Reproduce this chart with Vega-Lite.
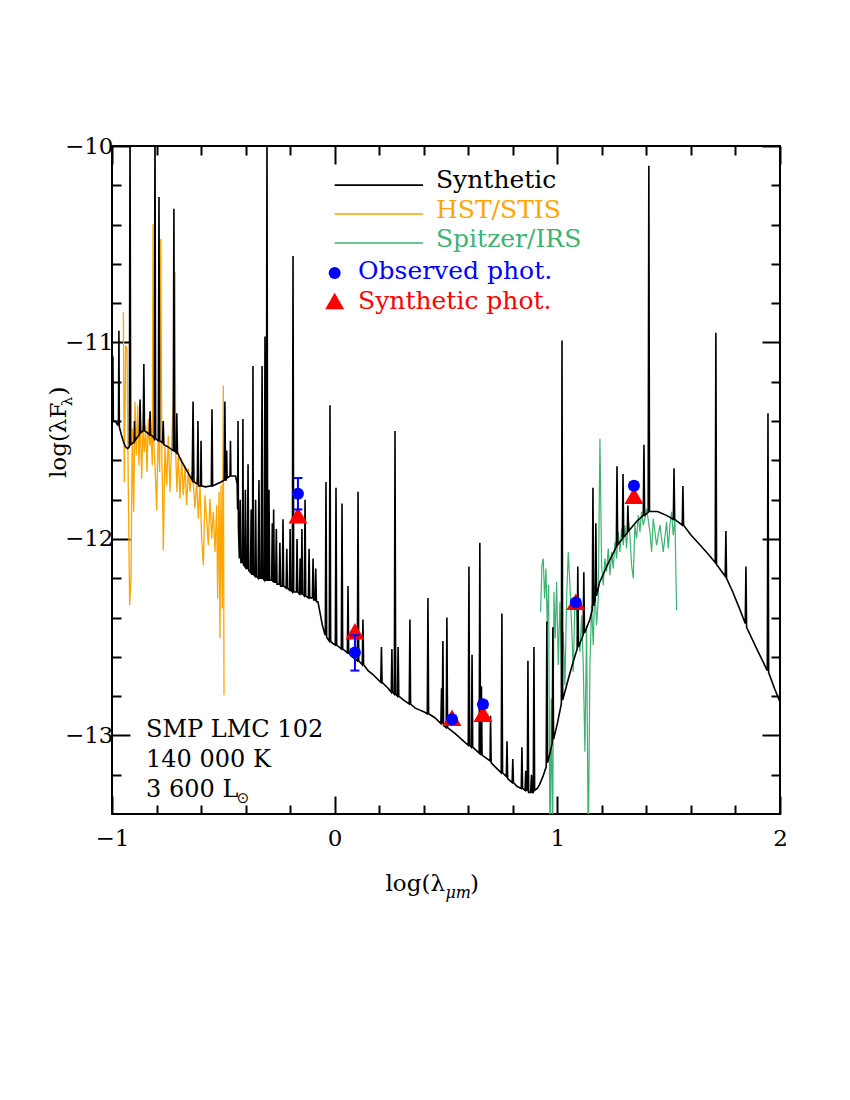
{
  "$schema": "https://vega.github.io/schema/vega-lite/v6.json",
  "width": 668,
  "height": 668,
  "autosize": {"type": "none"},
  "padding": {"left": 112, "top": 146, "right": 70, "bottom": 286},
  "background": "white",
  "config": {"view": {"stroke": "black", "strokeWidth": 2}, "font": "DejaVu Serif"},
  "resolve": {"axis": {"x": "independent", "y": "independent"}},
  "datasets": {
    "syn": [
      {"x":-1.000,"y":-11.39},{"x":-0.998,"y":-11.39},{"x":-0.996,"y":-11.07},{"x":-0.994,"y":-11.40},{"x":-0.985,"y":-11.40},{"x":-0.975,"y":-11.42},{"x":-0.971,"y":-11.42},{"x":-0.969,"y":-10.94},{"x":-0.967,"y":-11.43},{"x":-0.958,"y":-11.47},{"x":-0.950,"y":-11.50},{"x":-0.940,"y":-11.53},{"x":-0.930,"y":-11.54},{"x":-0.922,"y":-11.53},{"x":-0.919,"y":-9.9},{"x":-0.916,"y":-11.52},{"x":-0.905,"y":-11.51},{"x":-0.901,"y":-11.51},{"x":-0.899,"y":-11.40},{"x":-0.897,"y":-11.50},{"x":-0.885,"y":-11.48},{"x":-0.877,"y":-11.47},{"x":-0.874,"y":-11.29},{"x":-0.871,"y":-11.46},{"x":-0.860,"y":-11.45},{"x":-0.857,"y":-11.11},{"x":-0.854,"y":-11.45},{"x":-0.840,"y":-11.46},{"x":-0.832,"y":-11.47},{"x":-0.829,"y":-11.35},{"x":-0.826,"y":-11.47},{"x":-0.815,"y":-11.48},{"x":-0.810,"y":-11.49},{"x":-0.807,"y":-9.9},{"x":-0.804,"y":-11.49},{"x":-0.792,"y":-11.50},{"x":-0.789,"y":-10.26},{"x":-0.786,"y":-11.50},{"x":-0.773,"y":-11.51},{"x":-0.770,"y":-11.40},{"x":-0.767,"y":-11.52},{"x":-0.750,"y":-11.53},{"x":-0.725,"y":-11.55},{"x":-0.722,"y":-10.32},{"x":-0.719,"y":-11.55},{"x":-0.712,"y":-11.56},{"x":-0.709,"y":-11.36},{"x":-0.706,"y":-11.56},{"x":-0.690,"y":-11.60},{"x":-0.675,"y":-11.63},{"x":-0.660,"y":-11.66},{"x":-0.650,"y":-11.68},{"x":-0.640,"y":-11.70},{"x":-0.636,"y":-11.30},{"x":-0.632,"y":-11.71},{"x":-0.617,"y":-11.72},{"x":-0.614,"y":-11.40},{"x":-0.611,"y":-11.73},{"x":-0.602,"y":-11.73},{"x":-0.600,"y":-11.50},{"x":-0.598,"y":-11.73},{"x":-0.580,"y":-11.735},{"x":-0.554,"y":-11.73},{"x":-0.551,"y":-11.34},{"x":-0.548,"y":-11.73},{"x":-0.530,"y":-11.72},{"x":-0.510,"y":-11.71},{"x":-0.496,"y":-11.70},{"x":-0.493,"y":-11.30},{"x":-0.490,"y":-11.70},{"x":-0.487,"y":-11.70},{"x":-0.485,"y":-11.55},{"x":-0.483,"y":-11.69},{"x":-0.470,"y":-11.68},{"x":-0.468,"y":-11.50},{"x":-0.466,"y":-11.68},{"x":-0.455,"y":-11.68},{"x":-0.445,"y":-11.68},{"x":-0.438,"y":-11.72},{"x":-0.436,"y":-11.85},{"x":-0.434,"y":-11.40},{"x":-0.432,"y":-11.95},{"x":-0.428,"y":-12.10},{"x":-0.424,"y":-11.80},{"x":-0.421,"y":-12.12},{"x":-0.414,"y":-12.12},{"x":-0.412,"y":-11.39},{"x":-0.410,"y":-12.13},{"x":-0.404,"y":-12.14},{"x":-0.401,"y":-11.75},{"x":-0.398,"y":-12.15},{"x":-0.392,"y":-12.15},{"x":-0.389,"y":-11.62},{"x":-0.386,"y":-12.16},{"x":-0.378,"y":-12.17},{"x":-0.375,"y":-11.85},{"x":-0.372,"y":-12.18},{"x":-0.369,"y":-12.18},{"x":-0.367,"y":-11.12},{"x":-0.365,"y":-12.18},{"x":-0.358,"y":-12.19},{"x":-0.355,"y":-11.80},{"x":-0.352,"y":-12.19},{"x":-0.344,"y":-12.20},{"x":-0.340,"y":-11.70},{"x":-0.337,"y":-12.20},{"x":-0.330,"y":-12.20},{"x":-0.326,"y":-11.12},{"x":-0.323,"y":-12.20},{"x":-0.316,"y":-12.21},{"x":-0.313,"y":-10.97},{"x":-0.310,"y":-12.21},{"x":-0.307,"y":-12.21},{"x":-0.304,"y":-9.9},{"x":-0.301,"y":-12.21},{"x":-0.298,"y":-12.21},{"x":-0.295,"y":-11.75},{"x":-0.292,"y":-12.21},{"x":-0.283,"y":-12.21},{"x":-0.280,"y":-11.92},{"x":-0.277,"y":-12.22},{"x":-0.274,"y":-11.85},{"x":-0.271,"y":-12.22},{"x":-0.265,"y":-12.22},{"x":-0.262,"y":-11.95},{"x":-0.259,"y":-12.23},{"x":-0.249,"y":-12.23},{"x":-0.246,"y":-12.02},{"x":-0.243,"y":-12.24},{"x":-0.235,"y":-12.24},{"x":-0.232,"y":-11.90},{"x":-0.229,"y":-12.24},{"x":-0.218,"y":-12.25},{"x":-0.215,"y":-12.05},{"x":-0.212,"y":-12.25},{"x":-0.203,"y":-12.26},{"x":-0.200,"y":-11.95},{"x":-0.197,"y":-12.26},{"x":-0.190,"y":-12.27},{"x":-0.187,"y":-10.56},{"x":-0.184,"y":-12.27},{"x":-0.172,"y":-12.27},{"x":-0.169,"y":-12.00},{"x":-0.166,"y":-12.27},{"x":-0.158,"y":-12.28},{"x":-0.155,"y":-12.10},{"x":-0.152,"y":-12.28},{"x":-0.150,"y":-12.28},{"x":-0.147,"y":-11.95},{"x":-0.144,"y":-12.28},{"x":-0.136,"y":-12.29},{"x":-0.133,"y":-11.80},{"x":-0.130,"y":-12.29},{"x":-0.118,"y":-12.30},{"x":-0.115,"y":-12.05},{"x":-0.112,"y":-12.30},{"x":-0.100,"y":-12.30},{"x":-0.097,"y":-12.10},{"x":-0.094,"y":-12.31},{"x":-0.088,"y":-12.31},{"x":-0.085,"y":-12.15},{"x":-0.082,"y":-12.32},{"x":-0.075,"y":-12.32},{"x":-0.065,"y":-12.38},{"x":-0.055,"y":-12.44},{"x":-0.045,"y":-12.48},{"x":-0.042,"y":-12.49},{"x":-0.039,"y":-11.71},{"x":-0.036,"y":-12.50},{"x":-0.024,"y":-12.52},{"x":-0.021,"y":-11.32},{"x":-0.018,"y":-12.52},{"x":-0.010,"y":-12.53},{"x":0.003,"y":-12.54},{"x":0.006,"y":-11.74},{"x":0.009,"y":-12.54},{"x":0.020,"y":-12.55},{"x":0.030,"y":-12.56},{"x":0.033,"y":-11.82},{"x":0.036,"y":-12.56},{"x":0.057,"y":-12.58},{"x":0.060,"y":-12.24},{"x":0.063,"y":-12.58},{"x":0.080,"y":-12.60},{"x":0.102,"y":-12.62},{"x":0.105,"y":-11.76},{"x":0.108,"y":-12.62},{"x":0.124,"y":-12.64},{"x":0.127,"y":-12.41},{"x":0.130,"y":-12.64},{"x":0.150,"y":-12.67},{"x":0.172,"y":-12.69},{"x":0.207,"y":-12.73},{"x":0.210,"y":-12.55},{"x":0.213,"y":-12.73},{"x":0.240,"y":-12.76},{"x":0.254,"y":-12.78},{"x":0.257,"y":-12.56},{"x":0.260,"y":-12.78},{"x":0.268,"y":-12.79},{"x":0.271,"y":-11.45},{"x":0.274,"y":-12.79},{"x":0.282,"y":-12.80},{"x":0.285,"y":-12.55},{"x":0.288,"y":-12.80},{"x":0.310,"y":-12.82},{"x":0.335,"y":-12.84},{"x":0.338,"y":-12.41},{"x":0.341,"y":-12.84},{"x":0.360,"y":-12.86},{"x":0.380,"y":-12.87},{"x":0.400,"y":-12.88},{"x":0.416,"y":-12.89},{"x":0.419,"y":-12.30},{"x":0.422,"y":-12.89},{"x":0.450,"y":-12.91},{"x":0.477,"y":-12.94},{"x":0.480,"y":-12.76},{"x":0.483,"y":-12.94},{"x":0.486,"y":-12.52},{"x":0.489,"y":-12.95},{"x":0.501,"y":-12.96},{"x":0.504,"y":-12.40},{"x":0.507,"y":-12.96},{"x":0.540,"y":-12.99},{"x":0.570,"y":-13.02},{"x":0.600,"y":-13.05},{"x":0.603,"y":-12.14},{"x":0.606,"y":-13.05},{"x":0.614,"y":-13.06},{"x":0.617,"y":-12.59},{"x":0.620,"y":-13.06},{"x":0.649,"y":-13.09},{"x":0.652,"y":-12.02},{"x":0.655,"y":-13.09},{"x":0.656,"y":-13.10},{"x":0.659,"y":-12.75},{"x":0.662,"y":-13.10},{"x":0.698,"y":-13.13},{"x":0.700,"y":-12.90},{"x":0.703,"y":-13.14},{"x":0.730,"y":-13.17},{"x":0.748,"y":-13.19},{"x":0.751,"y":-12.38},{"x":0.754,"y":-13.19},{"x":0.771,"y":-13.21},{"x":0.774,"y":-13.03},{"x":0.777,"y":-13.22},{"x":0.797,"y":-13.24},{"x":0.800,"y":-13.12},{"x":0.803,"y":-13.24},{"x":0.820,"y":-13.26},{"x":0.838,"y":-13.27},{"x":0.841,"y":-13.06},{"x":0.844,"y":-13.27},{"x":0.855,"y":-13.28},{"x":0.858,"y":-13.18},{"x":0.861,"y":-13.28},{"x":0.865,"y":-13.28},{"x":0.868,"y":-12.62},{"x":0.871,"y":-13.29},{"x":0.880,"y":-13.29},{"x":0.884,"y":-13.20},{"x":0.887,"y":-13.29},{"x":0.892,"y":-13.29},{"x":0.895,"y":-12.55},{"x":0.898,"y":-13.28},{"x":0.910,"y":-13.27},{"x":0.920,"y":-13.25},{"x":0.935,"y":-13.21},{"x":0.950,"y":-13.16},{"x":0.953,"y":-12.42},{"x":0.956,"y":-13.14},{"x":0.965,"y":-13.10},{"x":0.977,"y":-13.04},{"x":0.980,"y":-12.45},{"x":0.983,"y":-13.02},{"x":1.000,"y":-12.94},{"x":1.018,"y":-12.84},{"x":1.021,"y":-10.99},{"x":1.024,"y":-12.82},{"x":1.050,"y":-12.71},{"x":1.070,"y":-12.63},{"x":1.089,"y":-12.56},{"x":1.092,"y":-12.14},{"x":1.095,"y":-12.55},{"x":1.116,"y":-12.49},{"x":1.119,"y":-12.17},{"x":1.122,"y":-12.48},{"x":1.146,"y":-12.41},{"x":1.157,"y":-12.36},{"x":1.160,"y":-11.74},{"x":1.163,"y":-12.34},{"x":1.170,"y":-12.31},{"x":1.173,"y":-11.92},{"x":1.176,"y":-12.29},{"x":1.190,"y":-12.22},{"x":1.230,"y":-12.12},{"x":1.265,"y":-12.04},{"x":1.268,"y":-11.63},{"x":1.271,"y":-12.03},{"x":1.292,"y":-12.00},{"x":1.295,"y":-11.67},{"x":1.298,"y":-11.99},{"x":1.314,"y":-11.97},{"x":1.317,"y":-11.83},{"x":1.320,"y":-11.96},{"x":1.357,"y":-11.91},{"x":1.386,"y":-11.88},{"x":1.389,"y":-11.52},{"x":1.392,"y":-11.88},{"x":1.408,"y":-11.865},{"x":1.411,"y":-10.10},{"x":1.414,"y":-11.86},{"x":1.450,"y":-11.86},{"x":1.490,"y":-11.88},{"x":1.521,"y":-11.90},{"x":1.524,"y":-11.64},{"x":1.527,"y":-11.90},{"x":1.561,"y":-11.93},{"x":1.564,"y":-11.73},{"x":1.567,"y":-11.93},{"x":1.600,"y":-11.98},{"x":1.640,"y":-12.03},{"x":1.680,"y":-12.08},{"x":1.709,"y":-12.12},{"x":1.712,"y":-10.95},{"x":1.715,"y":-12.13},{"x":1.754,"y":-12.19},{"x":1.757,"y":-11.96},{"x":1.760,"y":-12.20},{"x":1.788,"y":-12.27},{"x":1.820,"y":-12.36},{"x":1.844,"y":-12.43},{"x":1.847,"y":-12.14},{"x":1.850,"y":-12.45},{"x":1.900,"y":-12.57},{"x":1.943,"y":-12.67},{"x":1.946,"y":-11.36},{"x":1.949,"y":-12.68},{"x":1.975,"y":-12.76},{"x":2.000,"y":-12.83}
    ],
    "hst": [
      {"x":-0.949,"y":-10.846},{"x":-0.9446,"y":-11.710},{"x":-0.9386,"y":-11.015},{"x":-0.9326,"y":-11.032},{"x":-0.9267,"y":-11.761},{"x":-0.9207,"y":-12.337},{"x":-0.9147,"y":-12.201},{"x":-0.9087,"y":-11.439},{"x":-0.9027,"y":-11.862},{"x":-0.8967,"y":-11.303},{"x":-0.8907,"y":-11.574},{"x":-0.8847,"y":-11.320},{"x":-0.8788,"y":-11.625},{"x":-0.8728,"y":-11.354},{"x":-0.8668,"y":-11.693},{"x":-0.8608,"y":-11.439},{"x":-0.8548,"y":-11.557},{"x":-0.8488,"y":-11.422},{"x":-0.8428,"y":-11.659},{"x":-0.8369,"y":-11.388},{"x":-0.8309,"y":-11.524},{"x":-0.8249,"y":-11.473},{"x":-0.8189,"y":-11.625},{"x":-0.8159,"y":-10.397},{"x":-0.8129,"y":-11.50},{"x":-0.8069,"y":-11.625},{"x":-0.7994,"y":-11.854},{"x":-0.7920,"y":-11.422},{"x":-0.7860,"y":-11.659},{"x":-0.7810,"y":-10.473},{"x":-0.7760,"y":-11.60},{"x":-0.7740,"y":-11.693},{"x":-0.7695,"y":-12.057},{"x":-0.7620,"y":-11.524},{"x":-0.7545,"y":-11.727},{"x":-0.7470,"y":-11.473},{"x":-0.7396,"y":-11.761},{"x":-0.7321,"y":-11.507},{"x":-0.7246,"y":-11.30},{"x":-0.7171,"y":-10.641},{"x":-0.7141,"y":-11.557},{"x":-0.7081,"y":-11.761},{"x":-0.7021,"y":-11.557},{"x":-0.6947,"y":-11.795},{"x":-0.6872,"y":-11.591},{"x":-0.6797,"y":-11.778},{"x":-0.6722,"y":-11.625},{"x":-0.6647,"y":-11.829},{"x":-0.6573,"y":-11.642},{"x":-0.6498,"y":-11.761},{"x":-0.6423,"y":-11.659},{"x":-0.6348,"y":-11.727},{"x":-0.6273,"y":-11.845},{"x":-0.6198,"y":-11.693},{"x":-0.6124,"y":-11.896},{"x":-0.6049,"y":-11.727},{"x":-0.5974,"y":-11.998},{"x":-0.5899,"y":-12.134},{"x":-0.5824,"y":-11.778},{"x":-0.5749,"y":-11.896},{"x":-0.5675,"y":-12.032},{"x":-0.5600,"y":-11.795},{"x":-0.5525,"y":-11.998},{"x":-0.5450,"y":-11.862},{"x":-0.5375,"y":-12.066},{"x":-0.5300,"y":-11.829},{"x":-0.5255,"y":-12.303},{"x":-0.5195,"y":-11.761},{"x":-0.5150,"y":-12.506},{"x":-0.5106,"y":-11.727},{"x":-0.5046,"y":-12.354},{"x":-0.5001,"y":-11.219},{"x":-0.4971,"y":-12.794}
    ],
    "irs": [
      {"x":0.9249,"y":-12.371},{"x":0.9308,"y":-12.134},{"x":0.9368,"y":-12.100},{"x":0.9428,"y":-12.303},{"x":0.9488,"y":-12.150},{"x":0.9548,"y":-12.439},{"x":0.9608,"y":-12.235},{"x":0.9668,"y":-13.60},{"x":0.9727,"y":-12.812},{"x":0.9787,"y":-13.60},{"x":0.9847,"y":-12.269},{"x":0.9907,"y":-12.506},{"x":0.9967,"y":-12.218},{"x":1.0042,"y":-12.642},{"x":1.0117,"y":-12.320},{"x":1.0191,"y":-12.676},{"x":1.0266,"y":-12.472},{"x":1.0341,"y":-12.744},{"x":1.0416,"y":-12.303},{"x":1.0491,"y":-12.066},{"x":1.0566,"y":-12.235},{"x":1.0640,"y":-12.439},{"x":1.0715,"y":-12.676},{"x":1.0790,"y":-12.303},{"x":1.0865,"y":-12.371},{"x":1.0940,"y":-12.506},{"x":1.1015,"y":-12.574},{"x":1.1090,"y":-12.388},{"x":1.1164,"y":-12.642},{"x":1.1239,"y":-13.083},{"x":1.1314,"y":-12.439},{"x":1.1389,"y":-13.60},{"x":1.1464,"y":-12.642},{"x":1.1539,"y":-12.337},{"x":1.1613,"y":-12.540},{"x":1.1688,"y":-12.235},{"x":1.1763,"y":-12.439},{"x":1.1838,"y":-12.303},{"x":1.1913,"y":-11.49},{"x":1.1988,"y":-12.134},{"x":1.2062,"y":-12.235},{"x":1.2137,"y":-12.100},{"x":1.2212,"y":-12.167},{"x":1.2287,"y":-12.049},{"x":1.2362,"y":-12.184},{"x":1.2437,"y":-12.066},{"x":1.2511,"y":-12.150},{"x":1.2586,"y":-12.015},{"x":1.2661,"y":-12.100},{"x":1.2736,"y":-11.964},{"x":1.2811,"y":-12.066},{"x":1.2886,"y":-11.947},{"x":1.2961,"y":-12.032},{"x":1.3035,"y":-11.930},{"x":1.3110,"y":-12.049},{"x":1.3185,"y":-11.896},{"x":1.3260,"y":-11.981},{"x":1.3335,"y":-12.134},{"x":1.3410,"y":-12.201},{"x":1.3484,"y":-11.930},{"x":1.3559,"y":-11.998},{"x":1.3634,"y":-11.879},{"x":1.3709,"y":-11.964},{"x":1.3784,"y":-11.862},{"x":1.3859,"y":-11.930},{"x":1.3934,"y":-11.896},{"x":1.4008,"y":-11.845},{"x":1.4159,"y":-11.964},{"x":1.4234,"y":-12.066},{"x":1.4308,"y":-11.896},{"x":1.4458,"y":-12.032},{"x":1.4607,"y":-11.930},{"x":1.4757,"y":-12.066},{"x":1.4907,"y":-11.913},{"x":1.4981,"y":-12.049},{"x":1.5056,"y":-11.930},{"x":1.5131,"y":-11.862},{"x":1.5206,"y":-11.981},{"x":1.5281,"y":-11.896},{"x":1.5356,"y":-12.362}
    ],
    "obs": [
      {"x":-0.165,"y":-11.77,"ylo":-11.85,"yhi":-11.69},
      {"x":0.091,"y":-12.578,"ylo":-12.67,"yhi":-12.49},
      {"x":0.527,"y":-12.918,"ylo":-12.936,"yhi":-12.900},
      {"x":0.666,"y":-12.842,"ylo":-12.860,"yhi":-12.824},
      {"x":1.083,"y":-12.323,"ylo":-12.333,"yhi":-12.313},
      {"x":1.344,"y":-11.729,"ylo":-11.747,"yhi":-11.711}
    ],
    "sph": [
      {"x":-0.165,"y":-11.88},{"x":0.091,"y":-12.47},{"x":0.527,"y":-12.91},{"x":0.666,"y":-12.89},{"x":1.083,"y":-12.32},{"x":1.344,"y":-11.78}
    ]
  },
  "layer": [
    {
      "data": {"name": "hst"},
      "mark": {"type": "line", "color": "#FFA500", "strokeWidth": 1.3, "clip": true},
      "encoding": {
        "x": {"field": "x", "type": "quantitative", "scale": {"domain": [-1, 2], "nice": false, "zero": false},
          "axis": {"orient": "top", "values": [-1,-0.8,-0.6,-0.4,-0.2,0,0.2,0.4,0.6,0.8,1,1.2,1.4,1.6,1.8,2], "labels": false, "title": null, "domain": false, "grid": false, "tickColor": "black", "tickWidth": 2, "tickSize": {"condition": {"test": "datum.value % 1 === 0", "value": -18}, "value": -9}}},
        "y": {"field": "y", "type": "quantitative", "scale": {"domain": [-13.4, -10], "nice": false, "zero": false},
          "axis": {"orient": "right", "values": [-13.2,-13,-12.8,-12.6,-12.4,-12.2,-12,-11.8,-11.6,-11.4,-11.2,-11,-10.8,-10.6,-10.4,-10.2,-10], "labels": false, "title": null, "domain": false, "grid": false, "tickColor": "black", "tickWidth": 2, "tickSize": {"condition": {"test": "datum.value % 1 === 0", "value": -18}, "value": -9}}}
      }
    },
    {
      "data": {"name": "irs"},
      "mark": {"type": "line", "color": "#3CB371", "strokeWidth": 1.2, "clip": true},
      "encoding": {
        "x": {"field": "x", "type": "quantitative", "scale": {"domain": [-1, 2], "nice": false, "zero": false}, "axis": null},
        "y": {"field": "y", "type": "quantitative", "scale": {"domain": [-13.4, -10], "nice": false, "zero": false}, "axis": null}
      }
    },
    {
      "data": {"name": "syn"},
      "mark": {"type": "line", "color": "black", "strokeWidth": 1.6, "clip": true},
      "encoding": {
        "x": {"field": "x", "type": "quantitative", "scale": {"domain": [-1, 2], "nice": false, "zero": false},
          "axis": {"orient": "bottom", "values": [-1,-0.8,-0.6,-0.4,-0.2,0,0.2,0.4,0.6,0.8,1,1.2,1.4,1.6,1.8,2], "labelExpr": "datum.value % 1 === 0 ? format(datum.value, 'd') : ''", "labelFlush": false, "labelOverlap": false, "labelFont": "DejaVu Serif", "labelFontSize": 23, "labelColor": "black", "labelPadding": 31, "title": null, "domain": false, "grid": false, "tickColor": "black", "tickWidth": 2, "tickSize": {"condition": {"test": "datum.value % 1 === 0", "value": -18}, "value": -9}}},
        "y": {"field": "y", "type": "quantitative", "scale": {"domain": [-13.4, -10], "nice": false, "zero": false},
          "axis": {"orient": "left", "values": [-13.2,-13,-12.8,-12.6,-12.4,-12.2,-12,-11.8,-11.6,-11.4,-11.2,-11,-10.8,-10.6,-10.4,-10.2,-10], "labelExpr": "datum.value % 1 === 0 ? format(datum.value, 'd') : ''", "labelFlush": false, "labelOverlap": false, "labelFont": "DejaVu Serif", "labelFontSize": 23, "labelColor": "black", "labelPadding": 17, "title": null, "domain": false, "grid": false, "tickColor": "black", "tickWidth": 2, "tickSize": {"condition": {"test": "datum.value % 1 === 0", "value": -18}, "value": -9}}}
      }
    },
    {
      "data": {"name": "sph"},
      "mark": {"type": "point", "shape": "triangle-up", "filled": true, "color": "red", "size": 360, "opacity": 1},
      "encoding": {
        "x": {"field": "x", "type": "quantitative", "scale": {"domain": [-1, 2], "nice": false, "zero": false}, "axis": null},
        "y": {"field": "y", "type": "quantitative", "scale": {"domain": [-13.4, -10], "nice": false, "zero": false}, "axis": null}
      }
    },
    {
      "data": {"name": "obs"},
      "mark": {"type": "rule", "color": "blue", "strokeWidth": 2},
      "encoding": {
        "x": {"field": "x", "type": "quantitative", "scale": {"domain": [-1, 2], "nice": false, "zero": false}, "axis": null},
        "y": {"field": "ylo", "type": "quantitative", "scale": {"domain": [-13.4, -10], "nice": false, "zero": false}, "axis": null},
        "y2": {"field": "yhi"}
      }
    },
    {
      "data": {"name": "obs"},
      "mark": {"type": "tick", "orient": "horizontal", "color": "blue", "size": 9, "thickness": 2, "opacity": 1},
      "encoding": {
        "x": {"field": "x", "type": "quantitative", "scale": {"domain": [-1, 2], "nice": false, "zero": false}, "axis": null},
        "y": {"field": "ylo", "type": "quantitative", "scale": {"domain": [-13.4, -10], "nice": false, "zero": false}, "axis": null}
      }
    },
    {
      "data": {"name": "obs"},
      "mark": {"type": "tick", "orient": "horizontal", "color": "blue", "size": 9, "thickness": 2, "opacity": 1},
      "encoding": {
        "x": {"field": "x", "type": "quantitative", "scale": {"domain": [-1, 2], "nice": false, "zero": false}, "axis": null},
        "y": {"field": "yhi", "type": "quantitative", "scale": {"domain": [-13.4, -10], "nice": false, "zero": false}, "axis": null}
      }
    },
    {
      "data": {"name": "obs"},
      "mark": {"type": "point", "shape": "circle", "filled": true, "color": "blue", "size": 144, "opacity": 1},
      "encoding": {
        "x": {"field": "x", "type": "quantitative", "scale": {"domain": [-1, 2], "nice": false, "zero": false}, "axis": null},
        "y": {"field": "y", "type": "quantitative", "scale": {"domain": [-13.4, -10], "nice": false, "zero": false}, "axis": null}
      }
    },
    {
      "data": {"values": [{"series": "Synthetic"}]},
      "mark": {"type": "rule", "color": "black", "strokeWidth": 1.6},
      "encoding": {
        "x": {"datum": 0.0, "type": "quantitative", "scale": {"domain": [-1, 2], "nice": false, "zero": false}, "axis": null},
        "x2": {"datum": 0.397},
        "y": {"datum": -10.199, "type": "quantitative", "scale": {"domain": [-13.4, -10], "nice": false, "zero": false}, "axis": null}
      }
    },
    {
      "data": {"values": [{"series": "HST/STIS"}]},
      "mark": {"type": "rule", "color": "#FFA500", "strokeWidth": 1.6},
      "encoding": {
        "x": {"datum": 0.0, "type": "quantitative", "scale": {"domain": [-1, 2], "nice": false, "zero": false}, "axis": null},
        "x2": {"datum": 0.397},
        "y": {"datum": -10.346, "type": "quantitative", "scale": {"domain": [-13.4, -10], "nice": false, "zero": false}, "axis": null}
      }
    },
    {
      "data": {"values": [{"series": "Spitzer/IRS"}]},
      "mark": {"type": "rule", "color": "#3CB371", "strokeWidth": 1.6},
      "encoding": {
        "x": {"datum": 0.0, "type": "quantitative", "scale": {"domain": [-1, 2], "nice": false, "zero": false}, "axis": null},
        "x2": {"datum": 0.397},
        "y": {"datum": -10.494, "type": "quantitative", "scale": {"domain": [-13.4, -10], "nice": false, "zero": false}, "axis": null}
      }
    },
    {
      "data": {"values": [{"series": "Observed phot."}]},
      "mark": {"type": "point", "shape": "circle", "filled": true, "color": "blue", "size": 144, "opacity": 1},
      "encoding": {
        "x": {"datum": 0.0, "type": "quantitative", "scale": {"domain": [-1, 2], "nice": false, "zero": false}, "axis": null},
        "y": {"datum": -10.646, "type": "quantitative", "scale": {"domain": [-13.4, -10], "nice": false, "zero": false}, "axis": null}
      }
    },
    {
      "data": {"values": [{"series": "Synthetic phot."}]},
      "mark": {"type": "point", "shape": "triangle-up", "filled": true, "color": "red", "size": 360, "opacity": 1},
      "encoding": {
        "x": {"datum": 0.0, "type": "quantitative", "scale": {"domain": [-1, 2], "nice": false, "zero": false}, "axis": null},
        "y": {"datum": -10.789, "type": "quantitative", "scale": {"domain": [-13.4, -10], "nice": false, "zero": false}, "axis": null}
      }
    },
    {
      "data": {"values": [{"t": "Synthetic"}]},
      "mark": {"type": "text", "text": "Synthetic", "align": "left", "baseline": "alphabetic", "font": "DejaVu Serif", "fontSize": 25, "color": "black"},
      "encoding": {
        "x": {"datum": 0.455, "type": "quantitative", "scale": {"domain": [-1, 2], "nice": false, "zero": false}, "axis": null},
        "y": {"datum": -10.214, "type": "quantitative", "scale": {"domain": [-13.4, -10], "nice": false, "zero": false}, "axis": null}
      }
    },
    {
      "data": {"values": [{"t": "HST/STIS"}]},
      "mark": {"type": "text", "text": "HST/STIS", "align": "left", "baseline": "alphabetic", "font": "DejaVu Serif", "fontSize": 25, "color": "#FFA500"},
      "encoding": {
        "x": {"datum": 0.455, "type": "quantitative", "scale": {"domain": [-1, 2], "nice": false, "zero": false}, "axis": null},
        "y": {"datum": -10.366, "type": "quantitative", "scale": {"domain": [-13.4, -10], "nice": false, "zero": false}, "axis": null}
      }
    },
    {
      "data": {"values": [{"t": "Spitzer/IRS"}]},
      "mark": {"type": "text", "text": "Spitzer/IRS", "align": "left", "baseline": "alphabetic", "font": "DejaVu Serif", "fontSize": 25, "color": "#3CB371"},
      "encoding": {
        "x": {"datum": 0.455, "type": "quantitative", "scale": {"domain": [-1, 2], "nice": false, "zero": false}, "axis": null},
        "y": {"datum": -10.514, "type": "quantitative", "scale": {"domain": [-13.4, -10], "nice": false, "zero": false}, "axis": null}
      }
    },
    {
      "data": {"values": [{"t": "Observed phot."}]},
      "mark": {"type": "text", "text": "Observed phot.", "align": "left", "baseline": "alphabetic", "font": "DejaVu Serif", "fontSize": 25, "color": "blue"},
      "encoding": {
        "x": {"datum": 0.105, "type": "quantitative", "scale": {"domain": [-1, 2], "nice": false, "zero": false}, "axis": null},
        "y": {"datum": -10.677, "type": "quantitative", "scale": {"domain": [-13.4, -10], "nice": false, "zero": false}, "axis": null}
      }
    },
    {
      "data": {"values": [{"t": "Synthetic phot."}]},
      "mark": {"type": "text", "text": "Synthetic phot.", "align": "left", "baseline": "alphabetic", "font": "DejaVu Serif", "fontSize": 25, "color": "red"},
      "encoding": {
        "x": {"datum": 0.105, "type": "quantitative", "scale": {"domain": [-1, 2], "nice": false, "zero": false}, "axis": null},
        "y": {"datum": -10.830, "type": "quantitative", "scale": {"domain": [-13.4, -10], "nice": false, "zero": false}, "axis": null}
      }
    },
    {
      "data": {"values": [{"t": "name"}]},
      "mark": {"type": "text", "text": "SMP  LMC  102", "align": "left", "baseline": "alphabetic", "font": "DejaVu Serif", "fontSize": 24, "color": "black"},
      "encoding": {
        "x": {"datum": -0.847, "type": "quantitative", "scale": {"domain": [-1, 2], "nice": false, "zero": false}, "axis": null},
        "y": {"datum": -13.008, "type": "quantitative", "scale": {"domain": [-13.4, -10], "nice": false, "zero": false}, "axis": null}
      }
    },
    {
      "data": {"values": [{"t": "teff"}]},
      "mark": {"type": "text", "text": "140 000 K", "align": "left", "baseline": "alphabetic", "font": "DejaVu Serif", "fontSize": 24, "color": "black"},
      "encoding": {
        "x": {"datum": -0.847, "type": "quantitative", "scale": {"domain": [-1, 2], "nice": false, "zero": false}, "axis": null},
        "y": {"datum": -13.161, "type": "quantitative", "scale": {"domain": [-13.4, -10], "nice": false, "zero": false}, "axis": null}
      }
    },
    {
      "data": {"values": [{"t": "lum"}]},
      "mark": {"type": "text", "text": "3 600 L", "align": "left", "baseline": "alphabetic", "font": "DejaVu Serif", "fontSize": 24, "color": "black"},
      "encoding": {
        "x": {"datum": -0.847, "type": "quantitative", "scale": {"domain": [-1, 2], "nice": false, "zero": false}, "axis": null},
        "y": {"datum": -13.313, "type": "quantitative", "scale": {"domain": [-13.4, -10], "nice": false, "zero": false}, "axis": null}
      }
    },
    {
      "data": {"values": [{"t": "sun"}]},
      "mark": {"type": "text", "text": "⊙", "align": "center", "baseline": "middle", "font": "DejaVu Sans", "fontSize": 15, "color": "black"},
      "encoding": {
        "x": {"datum": -0.412, "type": "quantitative", "scale": {"domain": [-1, 2], "nice": false, "zero": false}, "axis": null},
        "y": {"datum": -13.319, "type": "quantitative", "scale": {"domain": [-13.4, -10], "nice": false, "zero": false}, "axis": null}
      }
    },
    {
      "data": {"values": [{"t": "xt1"}]},
      "mark": {"type": "text", "text": "log(λ", "align": "right", "baseline": "alphabetic", "font": "DejaVu Serif", "fontSize": 23, "color": "black"},
      "encoding": {
        "x": {"datum": 0.4955, "type": "quantitative", "scale": {"domain": [-1, 2], "nice": false, "zero": false}, "axis": null},
        "y": {"datum": -13.79, "type": "quantitative", "scale": {"domain": [-13.4, -10], "nice": false, "zero": false}, "axis": null}
      }
    },
    {
      "data": {"values": [{"t": "xt2"}]},
      "mark": {"type": "text", "text": "μm", "align": "left", "baseline": "alphabetic", "font": "DejaVu Serif", "fontSize": 16, "fontStyle": "italic", "color": "black"},
      "encoding": {
        "x": {"datum": 0.4975, "type": "quantitative", "scale": {"domain": [-1, 2], "nice": false, "zero": false}, "axis": null},
        "y": {"datum": -13.825, "type": "quantitative", "scale": {"domain": [-13.4, -10], "nice": false, "zero": false}, "axis": null}
      }
    },
    {
      "data": {"values": [{"t": "xt3"}]},
      "mark": {"type": "text", "text": ")", "align": "left", "baseline": "alphabetic", "font": "DejaVu Serif", "fontSize": 23, "color": "black"},
      "encoding": {
        "x": {"datum": 0.608, "type": "quantitative", "scale": {"domain": [-1, 2], "nice": false, "zero": false}, "axis": null},
        "y": {"datum": -13.79, "type": "quantitative", "scale": {"domain": [-13.4, -10], "nice": false, "zero": false}, "axis": null}
      }
    },
    {
      "data": {"values": [{"t": "yt1"}]},
      "mark": {"type": "text", "text": "log(λF", "angle": 270, "align": "left", "baseline": "alphabetic", "font": "DejaVu Serif", "fontSize": 23, "color": "black"},
      "encoding": {
        "x": {"datum": -1.2066, "type": "quantitative", "scale": {"domain": [-1, 2], "nice": false, "zero": false}, "axis": null},
        "y": {"datum": -11.69, "type": "quantitative", "scale": {"domain": [-13.4, -10], "nice": false, "zero": false}, "axis": null}
      }
    },
    {
      "data": {"values": [{"t": "yt2"}]},
      "mark": {"type": "text", "text": "λ", "angle": 270, "align": "left", "baseline": "alphabetic", "font": "DejaVu Serif", "fontSize": 15, "color": "black"},
      "encoding": {
        "x": {"datum": -1.1796, "type": "quantitative", "scale": {"domain": [-1, 2], "nice": false, "zero": false}, "axis": null},
        "y": {"datum": -11.325, "type": "quantitative", "scale": {"domain": [-13.4, -10], "nice": false, "zero": false}, "axis": null}
      }
    },
    {
      "data": {"values": [{"t": "yt3"}]},
      "mark": {"type": "text", "text": ")", "angle": 270, "align": "left", "baseline": "alphabetic", "font": "DejaVu Serif", "fontSize": 23, "color": "black"},
      "encoding": {
        "x": {"datum": -1.2066, "type": "quantitative", "scale": {"domain": [-1, 2], "nice": false, "zero": false}, "axis": null},
        "y": {"datum": -11.27, "type": "quantitative", "scale": {"domain": [-13.4, -10], "nice": false, "zero": false}, "axis": null}
      }
    }
  ]
}
